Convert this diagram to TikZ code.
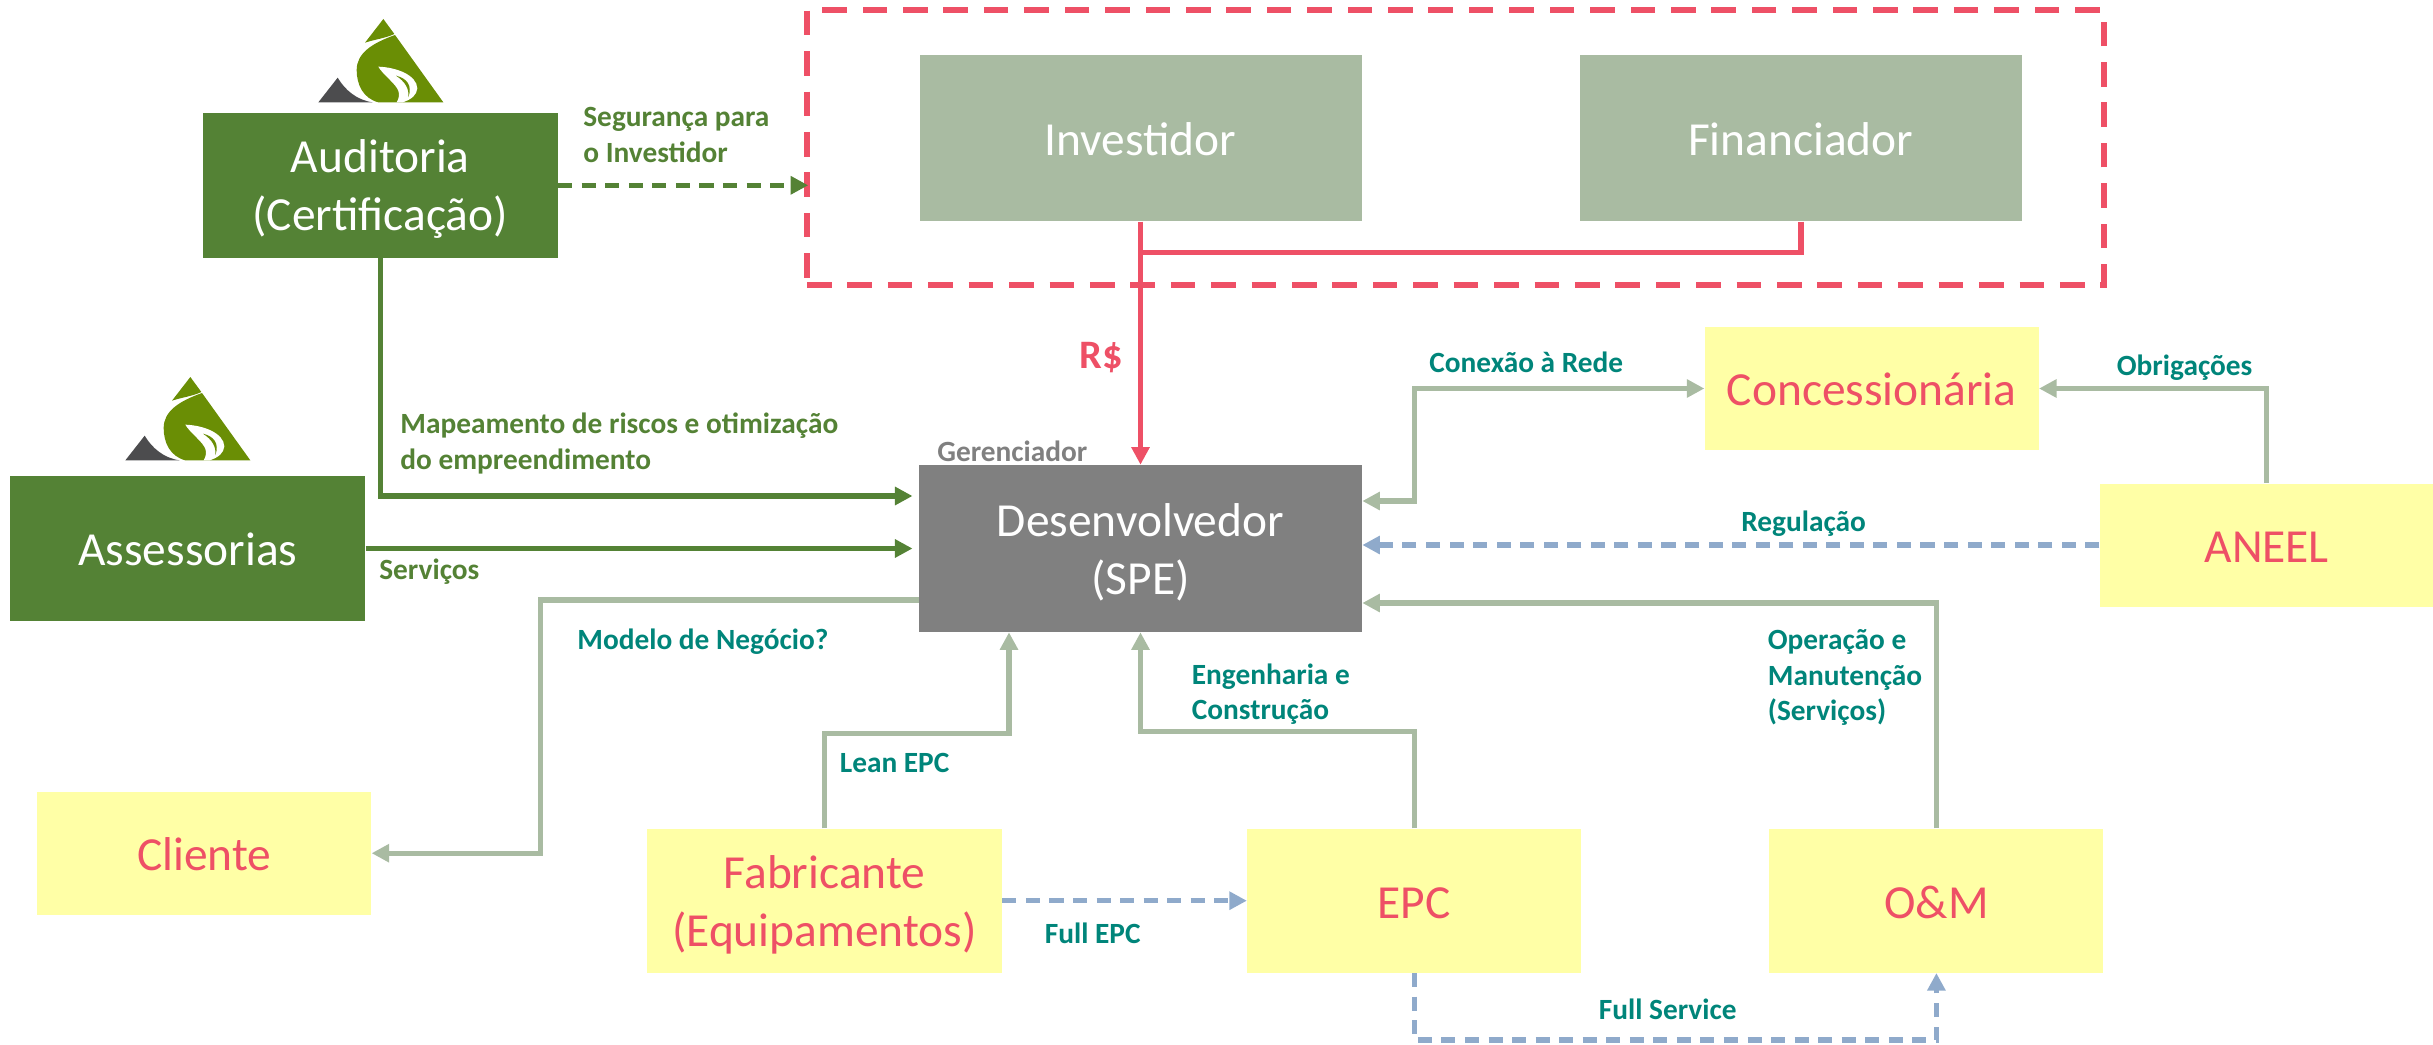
\documentclass[tikz,border=0pt]{standalone}
\usepackage{xcolor}
\usepackage{fontspec}
\setmainfont{Carlito}
\usetikzlibrary{shapes,arrows,positioning,calc,arrows.meta}
\definecolor{auditgreen}{HTML}{548235}
\definecolor{sage}{HTML}{A9BBA2}
\definecolor{paleyellow}{HTML}{FFFFA6}
\definecolor{alertred}{HTML}{EE5066}
\definecolor{labelteal}{HTML}{00857A}
\definecolor{linkblue}{HTML}{8FAACB}
\definecolor{logogreen}{HTML}{6A8E05}
\definecolor{logogray}{HTML}{4C4C4E}

\begin{document}
\begin{tikzpicture}[
    >={Stealth[inset=0pt, length=10pt, width=10pt]},
    greenbox/.style={rectangle, fill=auditgreen, text=white, minimum width=7.1cm, minimum height=2.9cm, align=center, inner sep=0pt, font=\fontsize{27}{33}\selectfont},
    sagebox/.style={rectangle, fill=sage, text=white, minimum width=8.84cm, minimum height=3.32cm, align=center, inner sep=0pt, font=\fontsize{27}{33}\selectfont},
    yellowbox/.style={rectangle, fill=paleyellow, text=alertred, minimum width=6.68cm, minimum height=2.46cm, align=center, inner sep=0pt, font=\fontsize{27}{33}\selectfont},
    oneline/.style={text height=20pt},
    twolines/.style={text height=56pt},
    groupbox/.style={rectangle, draw=alertred, line width=3pt, dash pattern=on 14pt off 9pt, minimum width=25.94cm, minimum height=5.5cm},
    textlabel/.style={anchor=west, align=left, inner sep=0pt, yshift=-0.05cm, font=\bfseries\fontsize{16.7}{20}\selectfont},
    teallabel/.style={textlabel, text=labelteal},
    greenlabel/.style={textlabel, text=auditgreen},
    sageline/.style={->, draw=sage, line width=3pt},
    blueline/.style={->, draw=linkblue, line width=3pt, dash pattern=on 8pt off 5.4pt},
    greenline/.style={->, draw=auditgreen, line width=3pt, shorten >=3.5pt},
    redline/.style={draw=alertred, line width=3.2pt}
]
    \useasboundingbox (0,0) rectangle (48.66,-20.9);

    \foreach \logox/\logoy in {6/-0.2, 2.14/-7.36} {
        \begin{scope}[shift={(\logox,\logoy)}, x=0.00667cm, y=-0.00667cm]
            \fill[logogreen] (250,27) -- (283,72) .. controls (255,85) and (225,88) .. (195,98) -- cycle;
            \fill[logogreen] (285,75) -- (430,277) -- (235,277) .. controls (190,265) and (170,225) .. (170,180) .. controls (170,130) and (215,100) .. (285,75) -- cycle;
            \fill[white] (235,170) .. controls (290,172) and (350,195) .. (352,235) .. controls (350,255) and (335,268) .. (308,277) -- (290,277) .. controls (305,250) and (295,235) .. (270,210) .. controls (255,195) and (240,180) .. (235,170) -- cycle;
            \fill[logogreen] (288,197) .. controls (320,205) and (338,225) .. (325,262) .. controls (328,235) and (315,215) .. (288,197) -- cycle;
            \fill[logogray] (55,277) -- (113,203) .. controls (135,240) and (170,270) .. (218,277) -- cycle;
        \end{scope}
    }

    \node[sagebox, twolines, fill=gray, minimum width=8.86cm, minimum height=3.34cm] (dev) at (22.81,-10.97) {Desenvolvedor\\(SPE)};

    \node[sagebox, oneline, above=4.86cm of dev] (investidor) {Investidor};
    \node[sagebox, oneline, right=4.35cm of investidor] (financiador) {Financiador};
    \node[groupbox] (grupo) at (29.11,-2.95) {};

    \node[greenbox, twolines, left=7.22cm of investidor, yshift=-0.94cm] (auditoria) {Auditoria\\(Certificação)};
    \node[greenbox, oneline, left=11.06cm of dev] (assessorias) {Assessorias};

    \node[yellowbox, oneline, right=6.84cm of dev, yshift=3.2cm] (concessionaria) {Concessionária};
    \node[yellowbox, oneline, right=14.74cm of dev, yshift=0.07cm] (aneel) {ANEEL};
    \node[yellowbox, oneline, minimum height=2.88cm, below right=3.92cm and -2.31cm of dev] (epc) {EPC};
    \node[yellowbox, oneline, minimum height=2.88cm, right=3.75cm of epc] (oem) {O\&M};
    \node[yellowbox, twolines, minimum width=7.1cm, minimum height=2.88cm, left=4.89cm of epc] (fabricante) {Fabricante\\(Equipamentos)};
    \node[yellowbox, oneline, left=5.5cm of fabricante, yshift=0.95cm] (cliente) {Cliente};

    \coordinate (devaud) at ($(dev.west)+(0,1.05)$);
    \coordinate (devcon) at ($(dev.east)+(0,0.95)$);
    \coordinate (devoem) at ($(dev.east)+(0,-1.09)$);
    \coordinate (devcli) at ($(dev.west)+(0,-1.03)$);
    \coordinate (devlean) at ($(dev.south)+(-2.63,0)$);
    \coordinate (conbend) at ($(concessionaria.west)+(-5.8,0)$);
    \coordinate (clibend) at ($(cliente.east)+(3.38,0)$);
    \coordinate (leanbend) at ($(fabricante.north)+(0,1.9)$);
    \coordinate (epcbend) at ($(epc.north)+(0,1.94)$);
    \coordinate (fullbend) at ($(epc.south)+(0,-1.34)$);
    \coordinate (finbend) at ($(financiador.south)+(0,-0.62)$);
    \coordinate (gruposeta) at ($(auditoria.east -| grupo.west)+(0.2,0)$);

    \draw[redline] (financiador.south) -- (finbend) -| (investidor.south);
    \draw[redline, ->] (investidor.south) -- (dev.north);

    \draw[greenline, dash pattern=on 8pt off 5.4pt] (auditoria.east) -- (gruposeta);
    \draw[greenline] (auditoria.south) |- (devaud);
    \draw[greenline] (assessorias.east) -- (dev.west);

    \draw[sageline, <->] (devcon) -| (conbend) -- (concessionaria.west);
    \draw[sageline] (aneel.north) |- (concessionaria.east);
    \draw[blueline] (aneel.west) -- (aneel.west -| dev.east);
    \draw[sageline] (oem.north) |- (devoem);
    \draw[sageline] (epc.north) -- (epcbend) -| (dev.south);
    \draw[sageline] (fabricante.north) -- (leanbend) -| (devlean);
    \draw[sageline] (devcli) -| (clibend) -- (cliente.east);
    \draw[blueline] (fabricante.east) -- (epc.west);
    \draw[blueline] (epc.south) -- (fullbend) -| (oem.south);

    \node[greenlabel] (lblseguranca) at (11.66,-2.65) {Segurança para\\o Investidor};
    \node[greenlabel] (lblmapeamento) at (8,-8.82) {Mapeamento de riscos e otimização\\do empreendimento};
    \node[greenlabel] (lblservicos) at (7.58,-11.38) {Serviços};
    \node[textlabel, text=alertred, font=\bfseries\fontsize{23}{24}\selectfont] (lblrs) at (21.58,-7.1) {R\$};
    \node[textlabel, text=gray] (lblgerenciador) at (18.74,-8.97) {Gerenciador};
    \node[teallabel] (lblconexao) at (28.58,-7.2) {Conexão à Rede};
    \node[teallabel] (lblobrigacoes) at (42.33,-7.3) {Obrigações};
    \node[teallabel] (lblregulacao) at (34.82,-10.43) {Regulação};
    \node[teallabel] (lblmodelo) at (11.54,-12.79) {Modelo de Negócio?};
    \node[teallabel] (lblengenharia) at (23.83,-13.84) {Engenharia e\\Construção};
    \node[teallabel] (lbloperacao) at (35.35,-13.5) {Operação e\\Manutenção\\(Serviços)};
    \node[teallabel] (lbllean) at (16.79,-15.2) {Lean EPC};
    \node[teallabel] (lblfullepc) at (20.89,-18.62) {Full EPC};
    \node[teallabel] (lblfullservice) at (31.97,-20.14) {Full Service};
\end{tikzpicture}
\end{document}
